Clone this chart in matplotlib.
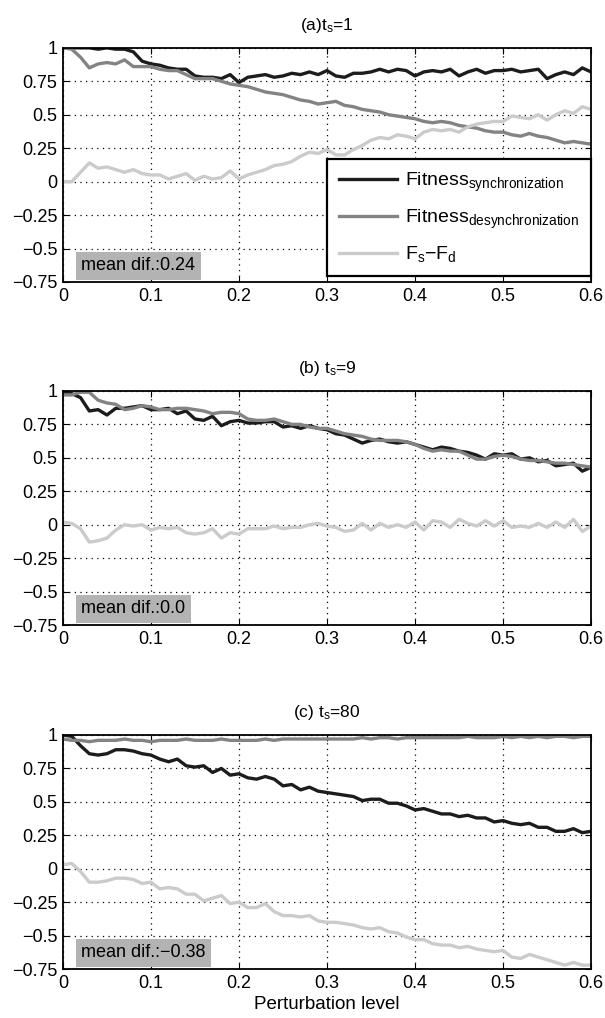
import numpy as np
import matplotlib
matplotlib.use('Agg')
import matplotlib.pyplot as plt

plt.rcParams['font.family'] = ['Liberation Sans', 'DejaVu Sans']
plt.rcParams['mathtext.default'] = 'regular'

# perturbation levels
x = np.round(np.arange(0, 0.601, 0.01), 2)

# (a) t_s = 1
sync_a = [1.00, 1.00, 1.00, 1.00, 0.99, 1.00, 0.99, 0.99, 0.97, 0.90, 0.88,
          0.87, 0.85, 0.84, 0.84, 0.79, 0.78, 0.78, 0.77, 0.80, 0.74,
          0.78, 0.79, 0.80, 0.78, 0.79, 0.81, 0.80, 0.82, 0.80, 0.83,
          0.79, 0.78, 0.81, 0.81, 0.82, 0.84, 0.82, 0.84, 0.83, 0.79,
          0.82, 0.83, 0.82, 0.84, 0.79, 0.82, 0.84, 0.81, 0.83, 0.83,
          0.84, 0.82, 0.83, 0.84, 0.77, 0.80, 0.82, 0.80, 0.85, 0.82]
desync_a = [1.00, 0.99, 0.93, 0.85, 0.88, 0.89, 0.88, 0.91, 0.86, 0.86, 0.86,
            0.84, 0.83, 0.83, 0.80, 0.77, 0.77, 0.77, 0.75, 0.73, 0.72,
            0.71, 0.69, 0.67, 0.66, 0.65, 0.63, 0.61, 0.60, 0.58, 0.59,
            0.60, 0.57, 0.56, 0.54, 0.53, 0.52, 0.50, 0.49, 0.48, 0.47,
            0.45, 0.44, 0.45, 0.44, 0.42, 0.41, 0.40, 0.38, 0.37, 0.37,
            0.35, 0.34, 0.36, 0.34, 0.33, 0.31, 0.29, 0.30, 0.29, 0.28]
diff_a = [0.00, 0.00, 0.07, 0.14, 0.10, 0.11, 0.09, 0.07, 0.09, 0.06, 0.05,
          0.05, 0.02, 0.04, 0.06, 0.01, 0.04, 0.02, 0.03, 0.08, 0.02,
          0.05, 0.07, 0.09, 0.12, 0.13, 0.15, 0.19, 0.22, 0.21, 0.24,
          0.20, 0.20, 0.24, 0.27, 0.31, 0.33, 0.32, 0.35, 0.34, 0.32,
          0.37, 0.39, 0.38, 0.39, 0.37, 0.41, 0.43, 0.44, 0.45, 0.45,
          0.49, 0.48, 0.47, 0.50, 0.46, 0.50, 0.53, 0.51, 0.56, 0.54]

# (b) t_s = 9
sync_b = [0.98, 0.98, 0.95, 0.85, 0.86, 0.82, 0.87, 0.87, 0.88, 0.89, 0.86,
          0.86, 0.87, 0.83, 0.85, 0.79, 0.78, 0.81, 0.74, 0.77, 0.78,
          0.76, 0.76, 0.77, 0.77, 0.73, 0.74, 0.72, 0.74, 0.72, 0.71,
          0.68, 0.67, 0.64, 0.61, 0.63, 0.64, 0.62, 0.61, 0.62, 0.60,
          0.58, 0.56, 0.58, 0.57, 0.55, 0.54, 0.52, 0.49, 0.53, 0.52,
          0.53, 0.49, 0.50, 0.47, 0.48, 0.44, 0.45, 0.46, 0.40, 0.43]
desync_b = [0.97, 0.97, 0.99, 0.99, 0.93, 0.91, 0.90, 0.86, 0.87, 0.89, 0.88,
            0.86, 0.86, 0.87, 0.87, 0.86, 0.85, 0.83, 0.84, 0.84, 0.83,
            0.79, 0.78, 0.78, 0.79, 0.77, 0.75, 0.75, 0.73, 0.72, 0.72,
            0.70, 0.68, 0.67, 0.66, 0.64, 0.63, 0.63, 0.63, 0.62, 0.60,
            0.57, 0.55, 0.56, 0.55, 0.55, 0.52, 0.49, 0.49, 0.51, 0.52,
            0.51, 0.49, 0.48, 0.48, 0.47, 0.46, 0.46, 0.45, 0.44, 0.43]
diff_b = [0.02, 0.01, -0.03, -0.13, -0.12, -0.10, -0.04, 0.00, -0.01, 0.00, -0.04,
          -0.02, -0.03, -0.02, -0.06, -0.07, -0.06, -0.03, -0.10, -0.06, -0.07,
          -0.03, -0.03, -0.03, -0.01, -0.03, -0.02, -0.02, 0.00, 0.01, -0.01,
          -0.02, -0.05, -0.04, 0.01, -0.04, 0.01, -0.02, 0.00, -0.02, 0.02,
          -0.04, 0.03, 0.02, -0.02, 0.04, 0.01, -0.01, 0.03, -0.01, 0.03,
          -0.02, -0.01, -0.02, 0.01, -0.02, 0.02, -0.02, 0.04, -0.05, -0.01]

# (c) t_s = 80
sync_c = [1.00, 0.99, 0.92, 0.86, 0.85, 0.86, 0.89, 0.89, 0.88, 0.86, 0.85,
          0.82, 0.80, 0.82, 0.77, 0.76, 0.77, 0.72, 0.75, 0.70, 0.71,
          0.68, 0.67, 0.69, 0.67, 0.62, 0.63, 0.59, 0.61, 0.58, 0.57,
          0.56, 0.55, 0.54, 0.51, 0.52, 0.52, 0.49, 0.49, 0.47, 0.44,
          0.45, 0.43, 0.41, 0.41, 0.39, 0.40, 0.38, 0.38, 0.35, 0.36,
          0.34, 0.33, 0.34, 0.31, 0.31, 0.28, 0.28, 0.30, 0.27, 0.28]
desync_c = [0.97, 0.96, 0.96, 0.95, 0.96, 0.96, 0.96, 0.97, 0.96, 0.96, 0.95,
            0.96, 0.96, 0.96, 0.97, 0.96, 0.96, 0.96, 0.97, 0.96, 0.96,
            0.96, 0.96, 0.97, 0.96, 0.97, 0.97, 0.97, 0.97, 0.97, 0.97,
            0.97, 0.97, 0.97, 0.98, 0.97, 0.98, 0.98, 0.97, 0.98, 0.98,
            0.98, 0.98, 0.98, 0.98, 0.98, 0.99, 0.98, 0.98, 0.98, 0.99,
            0.98, 0.99, 0.98, 0.99, 0.98, 0.99, 0.99, 0.98, 0.99, 0.99]
diff_c = [0.03, 0.04, -0.02, -0.10, -0.10, -0.09, -0.07, -0.07, -0.08, -0.11, -0.10,
          -0.15, -0.14, -0.15, -0.19, -0.19, -0.24, -0.22, -0.20, -0.26, -0.25,
          -0.29, -0.29, -0.26, -0.32, -0.35, -0.35, -0.36, -0.35, -0.39, -0.40,
          -0.40, -0.41, -0.42, -0.44, -0.45, -0.44, -0.47, -0.48, -0.51, -0.53,
          -0.53, -0.56, -0.57, -0.57, -0.59, -0.58, -0.60, -0.61, -0.62, -0.61,
          -0.66, -0.67, -0.64, -0.66, -0.68, -0.70, -0.72, -0.70, -0.72, -0.72]

titles = ['(a)$t_s$=1', '(b) $t_s$=9', '(c) $t_s$=80']
mean_labels = ['mean dif.:0.24', 'mean dif.:0.0', 'mean dif.:\u22120.38']
series = [(sync_a, desync_a, diff_a), (sync_b, desync_b, diff_b), (sync_c, desync_c, diff_c)]
labels = ['Fitness$_{synchronization}$', 'Fitness$_{desynchronization}$', '$F_s$\u2212$F_d$']
colors = ['#1c1c1c', '#838383', '#cbcbcb']

yticks = [-0.75, -0.5, -0.25, 0, 0.25, 0.5, 0.75, 1]
ytick_labels = ['\u22120.75', '\u22120.5', '\u22120.25', '0', '0.25', '0.5', '0.75', '1']
xticks = [0, 0.1, 0.2, 0.3, 0.4, 0.5, 0.6]
xtick_labels = ['0', '0.1', '0.2', '0.3', '0.4', '0.5', '0.6']

fig = plt.figure(figsize=(6.05, 10.18), dpi=100)
bottoms = [0.723, 0.386, 0.048]

for i in range(3):
    ax = fig.add_axes([0.104, bottoms[i], 0.873, 0.230])
    for ys, c, lab in zip(series[i], colors, labels):
        ax.plot(x, ys, color=c, lw=2.4, label=lab)
    ax.set_xlim(0, 0.6)
    ax.set_ylim(-0.75, 1)
    ax.set_xticks(xticks)
    ax.set_xticklabels(xtick_labels)
    ax.set_yticks(yticks)
    ax.set_yticklabels(ytick_labels)
    ax.tick_params(direction='in', top=True, right=True, labelsize=13, length=4, pad=4)
    ax.grid(True, linestyle=(0, (1, 3.5)), color='black', linewidth=0.9)
    for s in ax.spines.values():
        s.set_linewidth(1.3)
    ax.set_title(titles[i], fontsize=12.5, pad=13)
    ax.text(0.035, 0.05, mean_labels[i], transform=ax.transAxes, fontsize=13,
            bbox=dict(boxstyle='square,pad=0.3', fc='#b3b3b3', ec='none'))
    if i == 0:
        leg = ax.legend(loc='lower right', bbox_to_anchor=(1.0, 0.025), borderaxespad=0,
                        fontsize=14, handlelength=3.0, handletextpad=0.4,
                        labelspacing=0.7, borderpad=0.6,
                        fancybox=False, framealpha=1, edgecolor='black')
        leg.get_frame().set_linewidth(1.6)
    if i == 2:
        ax.set_xlabel('Perturbation level', fontsize=13.5, labelpad=3)

fig.savefig('out.png', dpi=100)
